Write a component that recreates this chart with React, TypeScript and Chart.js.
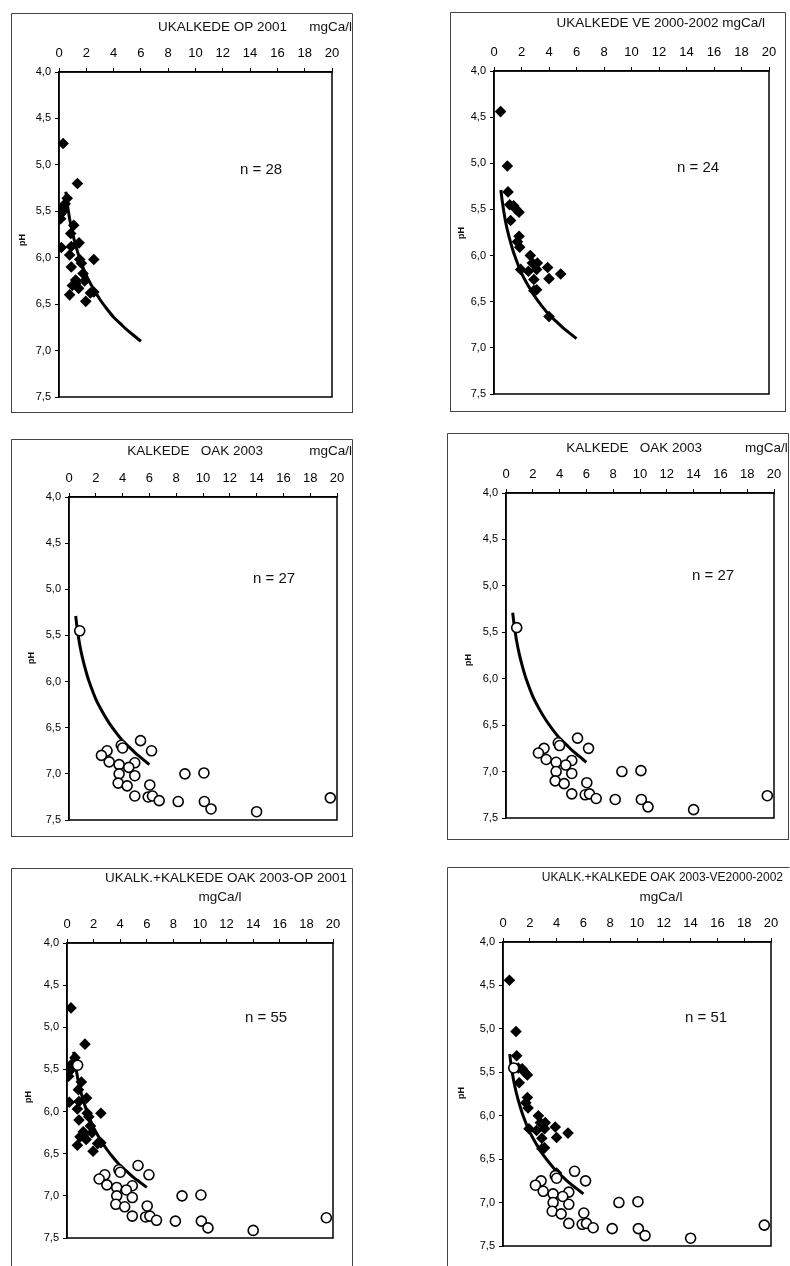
import React, { useEffect, useRef } from 'react';
import { Chart, registerables } from 'chart.js';
Chart.register(...registerables);

// ---- Data ----
// Unlimed sites, OP 2001 (diamonds, n = 28)
const opCa = [0.3, 1.35, 0.6, 0.45, 0.17, 0.12, 0.12, 1.08, 0.86, 1.47, 0.17, 0.9, 0.78, 1.52, 2.55, 1.64, 0.9, 1.76, 1.22, 1.88, 0.98, 1.44, 2.3, 0.78, 1.96, 1.22, 0.3, 2.55];
const opPH = [4.77, 5.2, 5.36, 5.42, 5.47, 5.53, 5.58, 5.65, 5.74, 5.84, 5.89, 5.88, 5.97, 6.02, 6.02, 6.06, 6.1, 6.17, 6.24, 6.25, 6.3, 6.33, 6.38, 6.4, 6.47, 6.28, 5.5, 6.37];
// Unlimed sites, VE 2000-2002 (diamonds, n = 24)
const veCa = [0.48, 0.97, 1.02, 1.14, 1.43, 1.62, 1.82, 1.21, 1.82, 1.87, 2.64, 2.79, 3.15, 1.94, 2.5, 3.1, 2.9, 3.1, 3.9, 4.0, 4.85, 4.0, 2.9, 1.7];
const vePH = [4.44, 5.03, 5.31, 5.45, 5.46, 5.5, 5.53, 5.62, 5.79, 5.91, 6.0, 6.08, 6.08, 6.15, 6.17, 6.15, 6.26, 6.37, 6.13, 6.25, 6.2, 6.66, 6.38, 5.85];
// Limed sites, OAK 2003 (open circles, n = 27)
const oakCa = [0.8, 5.34, 3.9, 4.0, 6.16, 2.84, 2.42, 3.0, 3.74, 4.91, 4.46, 3.74, 4.91, 3.67, 4.34, 6.03, 4.91, 5.91, 6.23, 6.73, 8.15, 8.65, 10.07, 10.1, 10.6, 14.0, 19.5];
const oakPH = [5.45, 6.64, 6.69, 6.72, 6.75, 6.75, 6.8, 6.87, 6.9, 6.88, 6.93, 7.0, 7.02, 7.1, 7.13, 7.12, 7.24, 7.25, 7.24, 7.29, 7.3, 7.0, 6.99, 7.3, 7.38, 7.41, 7.26];
// Reference curve drawn in every panel
const fitCa = [0.5, 0.6, 0.8, 1.0, 1.25, 1.5, 2.0, 2.5, 3.0, 3.5, 4.0, 4.5, 5.0, 5.5, 6.0];
const fitPH = [5.29, 5.41, 5.6, 5.74, 5.88, 6.0, 6.19, 6.33, 6.45, 6.55, 6.64, 6.71, 6.78, 6.84, 6.9];
// Axis ranges / tick steps
const caRange = [0, 20];
const caStep = 2;
const phRange = [4.0, 7.5];
const phStep = 0.5;

const FONT = '"Liberation Sans", Arial, sans-serif';
const PAGE_H = 1266;

type Txt = { t: string; x: number; y: number; align: CanvasTextAlign; size: number };
type Cfg = {
  box: number[]; plot: number[]; texts: Txt[]; ph: number[];
  diamonds: null | { xs: number[]; ys: number[] }; circles: boolean; rightBorder: boolean;
};

const PANELS: Cfg[] = [
  {
    box: [11, 13, 353, 413], plot: [59, 72, 332, 397], ph: [23, 240],
    texts: [
      { t: 'UKALKEDE OP 2001', x: 287, y: 27, align: 'right', size: 13.5 },
      { t: 'mgCa/l', x: 352, y: 27, align: 'right', size: 13.5 },
      { t: 'n = 28', x: 240, y: 170, align: 'left', size: 15 },
    ],
    diamonds: { xs: opCa, ys: opPH }, circles: false, rightBorder: true,
  },
  {
    box: [450, 12, 786, 412], plot: [494, 71, 769, 394], ph: [462, 233],
    texts: [
      { t: 'UKALKEDE VE 2000-2002 mgCa/l', x: 765, y: 23, align: 'right', size: 13.5 },
      { t: 'n = 24', x: 677, y: 168, align: 'left', size: 15 },
    ],
    diamonds: { xs: veCa, ys: vePH }, circles: false, rightBorder: true,
  },
  {
    box: [11, 439, 353, 837], plot: [69, 497, 337, 820], ph: [32, 658],
    texts: [
      { t: 'KALKEDE   OAK 2003', x: 263, y: 451, align: 'right', size: 13.5 },
      { t: 'mgCa/l', x: 352, y: 451, align: 'right', size: 13.5 },
      { t: 'n = 27', x: 253, y: 579, align: 'left', size: 15 },
    ],
    diamonds: null, circles: true, rightBorder: true,
  },
  {
    box: [447, 433, 789, 840], plot: [506, 493, 774, 818], ph: [469, 660],
    texts: [
      { t: 'KALKEDE   OAK 2003', x: 702, y: 448, align: 'right', size: 13.5 },
      { t: 'mgCa/l', x: 745, y: 448, align: 'left', size: 13.5 },
      { t: 'n = 27', x: 692, y: 576, align: 'left', size: 15 },
    ],
    diamonds: null, circles: true, rightBorder: true,
  },
  {
    box: [11, 868, 353, 1270], plot: [67, 943, 333, 1238], ph: [29, 1097],
    texts: [
      { t: 'UKALK.+KALKEDE OAK 2003-OP 2001', x: 347, y: 878, align: 'right', size: 13.5 },
      { t: 'mgCa/l', x: 220, y: 897, align: 'center', size: 13.5 },
      { t: 'n = 55', x: 245, y: 1018, align: 'left', size: 15 },
    ],
    diamonds: { xs: opCa, ys: opPH }, circles: true, rightBorder: true,
  },
  {
    box: [447, 867, 790, 1270], plot: [503, 942, 771, 1246], ph: [462, 1093],
    texts: [
      { t: 'UKALK.+KALKEDE OAK 2003-VE2000-2002', x: 783, y: 878, align: 'right', size: 12 },
      { t: 'mgCa/l', x: 661, y: 897, align: 'center', size: 13.5 },
      { t: 'n = 51', x: 685, y: 1018, align: 'left', size: 15 },
    ],
    diamonds: { xs: veCa, ys: vePH }, circles: true, rightBorder: false,
  },
];

const toPts = (xs: number[], ys: number[]) => xs.map((x, i) => ({ x, y: ys[i] }));

function Panel({ cfg }: { cfg: Cfg }) {
  const ref = useRef<HTMLCanvasElement>(null);
  const [bl, bt, br, bb] = cfg.box;
  const [pl, pt, pr, pb] = cfg.plot;
  const W = br - bl;
  const H = Math.min(bb, PAGE_H) - bt;

  useEffect(() => {
    if (!ref.current) return;
    const datasets: any[] = [];
    if (cfg.circles) {
      datasets.push({
        data: toPts(oakCa, oakPH), pointStyle: 'circle', pointRadius: 5,
        backgroundColor: '#fff', borderColor: '#000', borderWidth: 1.6, showLine: false, order: 1,
      });
    }
    if (cfg.diamonds) {
      datasets.push({
        data: toPts(cfg.diamonds.xs, cfg.diamonds.ys), pointStyle: 'rectRot', pointRadius: 5.8,
        backgroundColor: '#000', borderColor: '#000', borderWidth: 0, showLine: false, order: 2,
      });
    }
    datasets.push({
      data: toPts(fitCa, fitPH), showLine: true, pointRadius: 0, borderColor: '#000',
      borderWidth: 3, tension: 0.3, fill: false, order: 3,
    });

    const frame = {
      id: 'frame',
      afterDraw(chart: any) {
        const ctx = chart.ctx as CanvasRenderingContext2D;
        const a = chart.chartArea;
        ctx.save();
        ctx.strokeStyle = '#000';
        ctx.lineWidth = 1.5;
        ctx.strokeRect(a.left, a.top, a.right - a.left, a.bottom - a.top);
        // outer box
        ctx.strokeStyle = '#444';
        ctx.lineWidth = 1;
        ctx.beginPath();
        ctx.moveTo(0.5, H);
        ctx.lineTo(0.5, 0.5);
        ctx.lineTo(W - 0.5, 0.5);
        if (cfg.rightBorder) ctx.lineTo(W - 0.5, H);
        if (bb <= PAGE_H) { ctx.lineTo(W - 0.5, H - 0.5); ctx.lineTo(0.5, H - 0.5); }
        ctx.stroke();
        // texts
        ctx.fillStyle = '#111';
        ctx.textBaseline = 'middle';
        for (const t of cfg.texts) {
          ctx.font = `${t.size}px ${FONT}`;
          ctx.textAlign = t.align;
          ctx.fillText(t.t, t.x - bl, t.y - bt);
        }
        ctx.translate(cfg.ph[0] - bl, cfg.ph[1] - bt);
        ctx.rotate(-Math.PI / 2);
        ctx.font = `bold 9px ${FONT}`;
        ctx.textAlign = 'center';
        ctx.fillText('pH', 0, 0);
        ctx.restore();
      },
    };

    const chart = new Chart(ref.current, {
      type: 'scatter',
      data: { datasets },
      options: {
        animation: false,
        responsive: false,
        devicePixelRatio: 1,
        layout: { padding: { left: 0, top: 0, right: br - pr, bottom: bt + H - pb } },
        plugins: { legend: { display: false }, tooltip: { enabled: false }, title: { display: false } },
        scales: {
          x: {
            type: 'linear', position: 'top', min: caRange[0], max: caRange[1],
            ticks: { stepSize: caStep, padding: 7, color: '#000', font: { family: FONT, size: 13 }, autoSkip: false, maxRotation: 0 },
            grid: { drawOnChartArea: false, drawTicks: true, tickLength: 4, color: '#000', lineWidth: 1 },
            border: { display: true, color: '#000', width: 1.5 },
            afterFit: (s: any) => { s.height = pt - bt; },
          },
          y: {
            type: 'linear', reverse: true, min: phRange[0], max: phRange[1],
            ticks: {
              stepSize: phStep, padding: 4, color: '#000', font: { family: FONT, size: 11 },
              callback: (v: any) => Number(v).toFixed(1).replace('.', ','),
            },
            grid: { drawOnChartArea: false, drawTicks: true, tickLength: 4, color: '#000', lineWidth: 1 },
            border: { display: true, color: '#000', width: 1.5 },
            afterFit: (s: any) => { s.width = pl - bl; },
          },
        },
      } as any,
      plugins: [frame],
    });
    return () => chart.destroy();
  }, []);

  return (
    <canvas
      ref={ref}
      width={W}
      height={H}
      style={{ position: 'absolute', left: bl, top: bt, width: W, height: H }}
    />
  );
}

export default function App() {
  return (
    <div style={{ position: 'absolute', left: 0, top: 0, width: 790, height: PAGE_H, background: '#fff', overflow: 'hidden' }}>
      {PANELS.map((p, i) => <Panel key={i} cfg={p} />)}
    </div>
  );
}
